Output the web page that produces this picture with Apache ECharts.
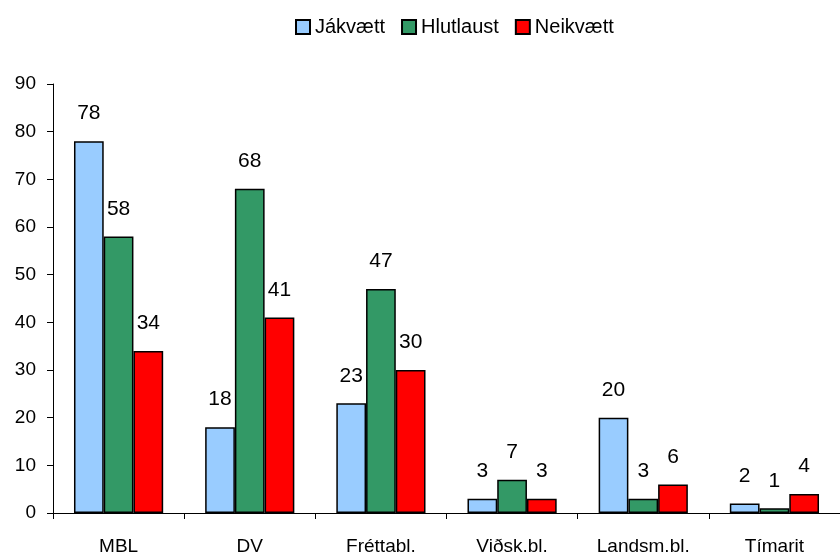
<!DOCTYPE html>
<html>
<head>
<meta charset="utf-8">
<script src="https://cdn.jsdelivr.net/npm/echarts@6/dist/echarts.min.js"></script>
<style>
  html, body { margin: 0; padding: 0; background: #fff; }
  #chart { width: 840px; height: 556px; }
</style>
</head>
<body>
<div id="chart"></div>
<script>
// gögn
const categories = ['MBL', 'DV', 'Fréttabl.', 'Viðsk.bl.', 'Landsm.bl.', 'Tímarit'];
const jakvaett = [78, 18, 23, 3, 20, 2];
const hlutlaust = [58, 68, 47, 7, 3, 1];
const neikvaett = [34, 41, 30, 3, 6, 4];

const font = 'Liberation Sans, Arial, sans-serif';

function bar(name, data, color) {
  return {
    name: name,
    type: 'bar',
    data: data,
    barGap: '0%',
    barCategoryGap: '32%',
    itemStyle: { color: color, borderColor: '#000', borderWidth: 1.5 },
    label: {
      show: true,
      position: 'top',
      distance: 17,
      color: '#000',
      fontFamily: font,
      fontSize: 21
    }
  };
}

let chart = echarts.init(document.getElementById('chart'));
let option = {
  animation: false,
  textStyle: { fontFamily: font },
  legend: {
    top: 12,
    left: 290,
    itemWidth: 14,
    itemHeight: 14,
    itemGap: 16,
    icon: 'rect',
    textStyle: { color: '#000', fontSize: 20, fontFamily: font },
    data: ['Jákvætt', 'Hlutlaust', 'Neikvætt']
  },
  grid: { left: 53, top: 84, width: 798, bottom: 42, containLabel: false },
  xAxis: {
    type: 'category',
    data: categories,
    axisLine: { lineStyle: { color: '#000', width: 1 } },
    axisTick: { show: true, length: 6, lineStyle: { color: '#000' } },
    axisLabel: { color: '#000', fontSize: 19, margin: 24, fontFamily: font, interval: 0 }
  },
  yAxis: {
    type: 'value',
    min: 0,
    max: 90,
    interval: 10,
    splitLine: { show: false },
    axisLine: { show: true, lineStyle: { color: '#000', width: 1 } },
    axisTick: { show: true, length: 6, lineStyle: { color: '#000' } },
    axisLabel: { color: '#000', fontSize: 19, margin: 17, fontFamily: font }
  },
  series: [
    bar('Jákvætt', jakvaett, '#99CCFF'),
    bar('Hlutlaust', hlutlaust, '#339966'),
    bar('Neikvætt', neikvaett, '#FF0000')
  ]
};
chart.setOption(option);
</script>
</body>
</html>
